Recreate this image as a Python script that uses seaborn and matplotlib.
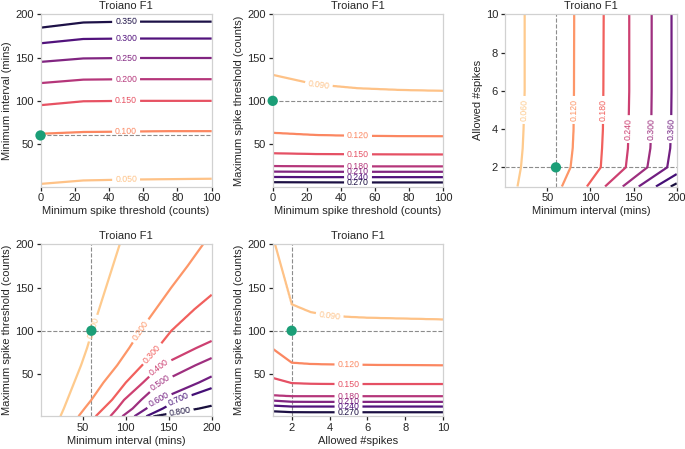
import numpy as np
import matplotlib
matplotlib.use("Agg")
import matplotlib.pyplot as plt
import seaborn as sns

sns.set_style("ticks")
plt.rcParams["font.family"] = ["Liberation Sans", "DejaVu Sans"]

TITLE = "Troiano F1"

# default parameter values (reference point)
DEF_MIN_SPIKE = 0
DEF_MIN_INTERVAL = 60
DEF_MAX_SPIKE = 100
DEF_ALLOWED = 2

# ---------- Panel 1: min spike threshold (x) vs min interval (y) ----------
p1_x = [0, 25, 50, 75, 100]
p1_levels = [0.00, 0.05, 0.10, 0.15, 0.20, 0.25, 0.30, 0.35, 0.40]
p1_cross = [  # min interval where F1 == level, for each x column
    [-60, -60, -60, -60, -60],
    [4, 8, 9, 9.5, 10],
    [62, 64, 64.5, 65, 65],
    [95, 99.5, 100, 100, 100],
    [120.5, 124.5, 125, 125, 125],
    [145, 149, 149.5, 149.5, 149.5],
    [166.5, 171.5, 172, 172, 172],
    [184.5, 190.5, 191.5, 191.5, 191.5],
    [215, 215, 215, 215, 215],
]
p1_labels = [(50, 9), (50, 64.5), (50, 100), (50, 125), (50, 149.5), (50, 172), (50, 191.5)]

# ---------- Panel 2: min spike threshold (x) vs max spike threshold (y) ----------
p2_x = [0, 25, 50, 75, 100]
p2_levels = [0.06, 0.09, 0.12, 0.15, 0.18, 0.21, 0.24, 0.27, 0.30]
p2_cross = [
    [260, 260, 260, 260, 260],
    [130, 119, 114.5, 112.5, 111.5],
    [63, 60.5, 59.5, 59.2, 59],
    [39.4, 38.5, 38.2, 38.1, 38],
    [24.6, 24.3, 24.2, 24.2, 24.2],
    [18.2, 18, 18, 18, 18],
    [12, 11.8, 11.8, 11.8, 11.8],
    [6, 5.8, 5.7, 5.7, 5.7],
    [-2, -2, -2, -2, -2],
]
p2_labels = [(27, 117), (50, 59.5), (50, 38.2), (50, 24.2), (50, 18), (50, 11.8), (50, 5.7)]

# ---------- Panel 3: min interval (x) vs allowed #spikes (y) ----------
p3_y = [1, 2, 3, 4, 6, 10]
p3_levels = [0.00, 0.06, 0.12, 0.18, 0.24, 0.30, 0.36, 0.42, 0.48, 0.54]
p3_cross = [  # min interval where F1 == level, for each row
    [-40, -40, -40, -40, -40, -40],
    [15.5, 19.5, 21.5, 22.5, 23.8, 23.8],
    [67, 77, 79.5, 80.5, 81, 81.2],
    [96, 112, 113.5, 114.5, 115, 115.4],
    [117, 141, 143.5, 144.2, 145, 145],
    [137.5, 166, 169.5, 170.5, 171, 171],
    [156, 189, 192.5, 193.5, 194, 194],
    [176, 213, 217, 218, 219, 219],
    [193, 235, 240, 241, 242, 242],
    [215, 260, 265, 266, 267, 267],
]
p3_labels = [(23, 5.0), (81, 5.0), (115, 5.0), (145, 4.0), (171, 4.0), (194, 4.0)]

# ---------- Panel 4: min interval (x) vs max spike threshold (y) ----------
p4_y = [1, 10, 20, 40, 60, 80, 100, 125, 150, 175, 200]
p4_levels = [0.0, 0.1, 0.2, 0.3, 0.4, 0.5, 0.6, 0.7, 0.8, 0.9]
p4_cross = [  # min interval where F1 == level, for each row
    [-40, -40, -40, -40, -40, -40, -40, -40, -40, -40, -40],
    [24, 28, 32, 40, 48, 55, 61, 69, 77, 85, 93],
    [45, 52, 60, 74, 90, 104, 117, 135, 153, 172, 190],
    [65, 74, 84, 100, 119, 137, 153, 180, 210, 240, 270],
    [82, 90, 98, 120, 141, 182, 226, 281, 336, 391, 446],
    [96, 108, 118, 140, 181, 226, 270, 326, 382, 438, 494],
    [110, 124, 138, 185, 227, 269, 311, 363, 415, 467, 519],
    [124, 143, 161, 218, 276, 334, 392, 464, 536, 608, 680],
    [132, 185, 230, 320, 410, 500, 590, 700, 810, 920, 1030],
    [300, 380, 450, 600, 750, 900, 1050, 1200, 1350, 1500, 1650],
]
p4_labels = [(62, 103), (117, 100), (130, 74), (139, 58), (140, 40), (138, 21), (161, 21), (163, 8)]

# ---------- Panel 5: allowed #spikes (x) vs max spike threshold (y) ----------
p5_x = [1, 2, 3, 4, 5, 6, 8, 10]
p5_levels = [0.06, 0.09, 0.12, 0.15, 0.18, 0.21, 0.24, 0.27, 0.30]
p5_cross = [
    [300, 300, 300, 300, 300, 300, 300, 300],
    [210, 130.6, 121.5, 117.5, 116, 115, 114, 113],
    [79, 63, 61.5, 61, 60.7, 60.5, 60.2, 60],
    [45.4, 39.4, 38.6, 38.4, 38.3, 38.3, 38.3, 38.3],
    [25.3, 24.2, 24.2, 24.2, 24.2, 24.2, 24.2, 24.2],
    [19.2, 17.8, 17.7, 17.7, 17.7, 17.7, 17.7, 17.7],
    [13.4, 12.3, 12.3, 12.3, 12.3, 12.3, 12.3, 12.3],
    [6.8, 5.8, 5.7, 5.7, 5.7, 5.7, 5.7, 5.7],
    [-2, -2, -2, -2, -2, -2, -2, -2],
]
p5_labels = [(4.0, 117), (5.0, 61), (5.0, 38.3), (5.0, 24.2), (5.0, 17.7), (5.0, 12.3), (5.0, 5.7)]

CMAP = sns.color_palette("magma_r", as_cmap=True)
DOT = "#1b9e77"


def field(anchor, levels, cross, along_fine, across_fine):
    """Z[i_across, i_along]: crossing positions (per level) are known at the
    anchor coordinates; they are joined linearly, then F1 is filled in between
    neighbouring levels along the other axis."""
    lv = np.asarray(levels, float)
    cr = np.asarray(cross, float)
    Z = np.empty((len(across_fine), len(along_fine)))
    for k, a in enumerate(along_fine):
        pos = np.array([np.interp(a, anchor, row) for row in cr])
        o = np.argsort(pos)
        Z[:, k] = np.interp(across_fine, pos[o], lv[o])
    return Z


fig = plt.figure(figsize=(6.85, 4.49), dpi=100)
W, H = 685.0, 449.0


def make_ax(l, r, t, b):
    return fig.add_axes([l / W, 1 - b / H, (r - l) / W, (b - t) / H])


def style(ax, xlabel, ylabel, xlim, ylim, xticks, yticks):
    ax.set_xlim(*xlim)
    ax.set_ylim(*ylim)
    ax.set_xticks(xticks)
    ax.set_yticks(yticks)
    ax.set_xlabel(xlabel, fontsize=8, labelpad=2)
    ax.set_ylabel(ylabel, fontsize=8, labelpad=2)
    ax.set_title(TITLE, fontsize=8, pad=4)
    ax.tick_params(labelsize=8, length=3, width=0.9, color=".15", pad=2)
    for s in ax.spines.values():
        s.set_color(".82")
        s.set_linewidth(0.9)


def draw(ax, X, Y, Z, levels, labels):
    cs = ax.contour(X, Y, Z, levels=levels[1:-1], cmap=CMAP,
                    vmin=levels[0], vmax=levels[-1], linewidths=1.6)
    ax.clabel(cs, fmt="%.3f", fontsize=6.3, inline=True, inline_spacing=3,
              manual=labels)


def ref(ax, hx=None, vy=None):
    if hx is not None:
        ax.axvline(hx, color=".55", ls="--", lw=0.8, zorder=1)
    if vy is not None:
        ax.axhline(vy, color=".55", ls="--", lw=0.8, zorder=1)


def dot(ax, x, y):
    sns.scatterplot(x=[x], y=[y], ax=ax, color=DOT, s=55, edgecolor="none",
                    zorder=6, clip_on=False, legend=False)


yf = np.linspace(1, 200, 500)
xs100 = np.linspace(0, 100, 201)
xf = np.linspace(1, 200, 500)
y10 = np.linspace(1, 10, 181)
x10 = np.linspace(1, 10, 181)

# Panel 1
ax1 = make_ax(40.5, 211.7, 14.3, 186.5)
Z1 = field(p1_x, p1_levels, p1_cross, xs100, yf)
ref(ax1, vy=DEF_MIN_INTERVAL)
draw(ax1, xs100, yf, Z1, p1_levels, p1_labels)
dot(ax1, DEF_MIN_SPIKE, DEF_MIN_INTERVAL)
style(ax1, "Minimum spike threshold (counts)", "Minimum interval (mins)",
      (0, 100), (1, 200), [0, 20, 40, 60, 80, 100], [50, 100, 150, 200])

# Panel 2
ax2 = make_ax(272.7, 443.3, 14.3, 186.5)
Z2 = field(p2_x, p2_levels, p2_cross, xs100, yf)
ref(ax2, vy=DEF_MAX_SPIKE)
draw(ax2, xs100, yf, Z2, p2_levels, p2_labels)
dot(ax2, DEF_MIN_SPIKE, DEF_MAX_SPIKE)
style(ax2, "Minimum spike threshold (counts)", "Maximum spike threshold (counts)",
      (0, 100), (1, 200), [0, 20, 40, 60, 80, 100], [50, 100, 150, 200])

# Panel 3
ax3 = make_ax(505.0, 676.7, 14.3, 186.5)
Z3 = field(p3_y, p3_levels, p3_cross, y10, xf).T
ref(ax3, hx=DEF_MIN_INTERVAL, vy=DEF_ALLOWED)
draw(ax3, xf, y10, Z3, p3_levels, p3_labels)
dot(ax3, DEF_MIN_INTERVAL, DEF_ALLOWED)
style(ax3, "Minimum interval (mins)", "Allowed #spikes",
      (1, 200), (1, 10), [50, 100, 150, 200], [2, 4, 6, 8, 10])

# Panel 4
ax4 = make_ax(40.7, 211.7, 244.3, 416.3)
Z4 = field(p4_y, p4_levels, p4_cross, yf, xf).T
ref(ax4, hx=DEF_MIN_INTERVAL, vy=DEF_MAX_SPIKE)
draw(ax4, xf, yf, Z4, p4_levels, p4_labels)
dot(ax4, DEF_MIN_INTERVAL, DEF_MAX_SPIKE)
style(ax4, "Minimum interval (mins)", "Maximum spike threshold (counts)",
      (1, 200), (1, 200), [50, 100, 150, 200], [50, 100, 150, 200])

# Panel 5
ax5 = make_ax(272.7, 443.3, 244.3, 416.3)
Z5 = field(p5_x, p5_levels, p5_cross, x10, yf)
ref(ax5, hx=DEF_ALLOWED, vy=DEF_MAX_SPIKE)
draw(ax5, x10, yf, Z5, p5_levels, p5_labels)
dot(ax5, DEF_ALLOWED, DEF_MAX_SPIKE)
style(ax5, "Allowed #spikes", "Maximum spike threshold (counts)",
      (1, 10), (1, 200), [2, 4, 6, 8, 10], [50, 100, 150, 200])

fig.savefig("out.png", dpi=100)
